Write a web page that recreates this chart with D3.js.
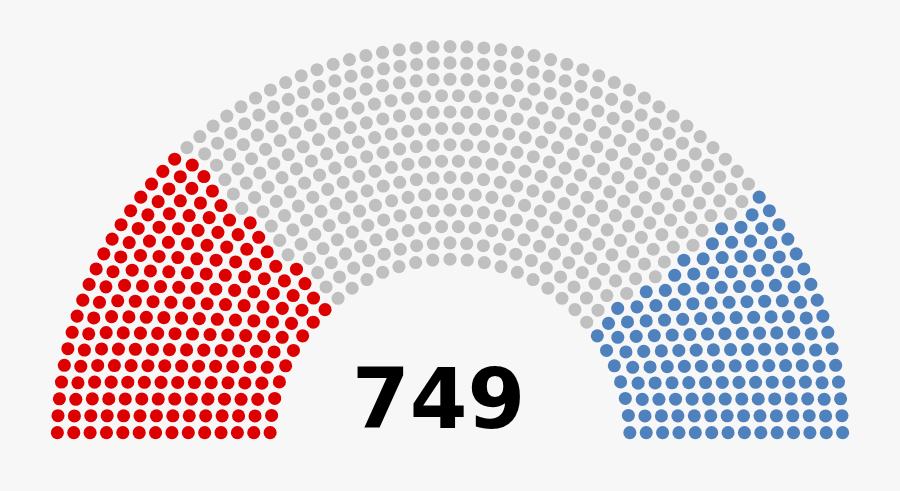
<!DOCTYPE html>
<html>
<head>
<meta charset="utf-8">
<script src="https://cdnjs.cloudflare.com/ajax/libs/d3/7.8.5/d3.min.js"></script>
<style>
    html, body { margin: 0; padding: 0; background: #f7f7f7; }
    svg { display: block; }
</style>
</head>
<body>
<div id="chart"></div>
<script>
const partyNames = ['Red', 'Grey', 'Blue'];
const seatCounts = [200, 389, 160];
const partyColors = ['#dd0000', '#c0c0c0', '#4f81bd'];

// cumulative seat totals that decide how many rows the hemicycle gets
const rowTotals = [3, 15, 33, 61, 95, 138, 189, 247, 313, 388, 469, 559, 657, 762, 876, 997, 1126, 1263];

const width = 900, height = 491;

const svg = d3.select('#chart')
    .append('svg')
    .attr('width', width)
    .attr('height', height);

svg.append('rect')
    .attr('width', width)
    .attr('height', height)
    .attr('fill', '#f7f7f7');

// layout units: hemicycle centre sits at (1.75, 0), outer radius ~1.71
const unit = 229.06;
const x = d3.scaleLinear().domain([0, 3.5]).range([450 - 1.75 * unit, 450 + 1.75 * unit]);
const y = d3.scaleLinear().domain([0, 1.75]).range([439.2, 439.2 - 1.75 * unit]);

function seatPositions(total) {
    let rows = rowTotals.findIndex(t => t >= total) + 1;
    let radius = 0.4 / rows;
    let seats = [];
    let addRow = function (n, R) {
        if (n === 1) {
            seats.push({angle: Math.PI / 2, x: 1.75, y: R});
            return;
        }
        for (let j = 0; j < n; j++) {
            let a = j * (Math.PI - 2 * Math.sin(radius / R)) / (n - 1) + Math.sin(radius / R);
            seats.push({angle: a, x: R * Math.cos(a) + 1.75, y: R * Math.sin(a)});
        }
    };
    for (let i = 1; i < rows; i++) {
        let n = Math.floor(total / rowTotals[rows - 1] * Math.PI / (2 * Math.asin(2 / (3 * rows + 4 * i - 2))));
        addRow(n, (3 * rows + 4 * i - 2) / (4 * rows));
    }
    addRow(total - seats.length, (7 * rows - 2) / (4 * rows));
    seats.sort((a, b) => b.angle - a.angle);
    return {seats: seats, radius: radius};
}

const total = d3.sum(seatCounts);
const layout = seatPositions(total);

// hand out seats left to right, party by party
let party = [];
seatCounts.forEach((c, i) => {
    for (let k = 0; k < c; k++) party.push(i);
});
layout.seats.forEach((s, i) => s.party = party[i]);

svg.append('g')
    .selectAll('circle')
    .data(layout.seats)
    .enter()
    .append('circle')
    .attr('cx', d => x(d.x))
    .attr('cy', d => y(d.y))
    .attr('r', layout.radius * unit)
    .attr('fill', d => partyColors[d.party])
    .append('title')
    .text(d => partyNames[d.party]);

svg.append('text')
    .attr('x', x(1.7))
    .attr('y', y(0.05))
    .attr('text-anchor', 'middle')
    .attr('font-family', 'DejaVu Sans, sans-serif')
    .attr('font-weight', 'bold')
    .attr('font-size', 83)
    .attr('fill', '#000')
    .text(total);
</script>
</body>
</html>
